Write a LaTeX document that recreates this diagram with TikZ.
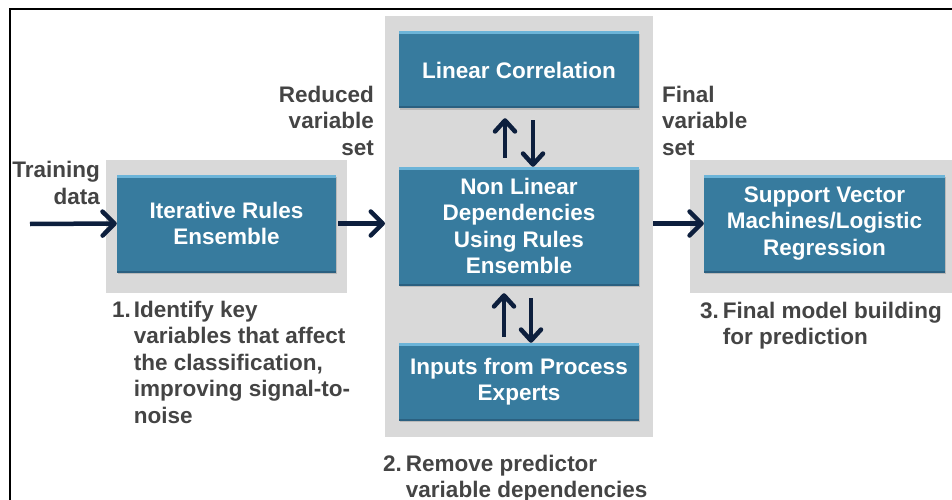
\documentclass[tikz,border=0pt]{standalone}
\usepackage{fontspec}
\setmainfont{Liberation Sans}
\usetikzlibrary{arrows.meta,shadows}
\definecolor{boxblue}{HTML}{377B9E}
\definecolor{boxtop}{HTML}{6CB4D8}
\definecolor{boxbot}{HTML}{2B6080}
\definecolor{panelgray}{HTML}{D9D9D9}
\definecolor{navy}{HTML}{0D1F3D}
\definecolor{txtgray}{HTML}{444444}
\begin{document}
\begin{tikzpicture}[x=1pt,y=-1pt,
  panel/.style={fill=panelgray,draw=none,inner sep=0pt,anchor=north west},
  box/.style={fill=boxblue,text=white,align=center,inner sep=0pt,
    font=\bfseries\fontsize{22.5}{26.5}\selectfont,
    drop shadow={shadow xshift=1pt,shadow yshift=-2pt,opacity=0.35},
    path picture={
      \draw[boxtop,line width=5pt] (path picture bounding box.north west) -- (path picture bounding box.north east);
      \draw[boxbot,line width=3pt] (path picture bounding box.south west) -- (path picture bounding box.south east);}},
  lbl/.style={text=txtgray,font=\bfseries\fontsize{22.5}{26.5}\selectfont,inner sep=0pt},
  flow/.style={draw=navy,line width=4.5pt,-{Straight Barb[length=12pt,width=24pt,round]}},
  vflow/.style={draw=navy,line width=4.5pt,-{Straight Barb[length=11pt,width=20pt,round]}},
]
\useasboundingbox (0,0) rectangle (952,500);
\draw[line width=1.6pt] (10,9) rectangle (975,525);

% panels
\node[panel,minimum width=241pt,minimum height=133pt] (p1) at (106,160) {};
\node[panel,minimum width=268pt,minimum height=421pt] (p2) at (385,16) {};
\node[panel,minimum width=270pt,minimum height=133pt] (p3) at (690,160) {};

% boxes
\node[box,minimum width=219pt,minimum height=97pt] (ire) at (226.5,223.5) {Iterative Rules\\Ensemble};
\node[box,minimum width=240pt,minimum height=76pt] (lc) at (519,70) {Linear Correlation};
\node[box,minimum width=240pt,minimum height=118pt] (nl) at (519,226) {Non Linear\\Dependencies\\Using Rules\\Ensemble};
\node[box,minimum width=240pt,minimum height=77pt] (inp) at (519,381.5) {Inputs from Process\\Experts};
\node[box,minimum width=241pt,minimum height=97pt] (svm) at (824.5,223.5) {Support Vector\\Machines/Logistic\\Regression};

% labels
\node[lbl,anchor=base east,align=right] (train) at (100,204) {Training\\data};
\node[lbl,anchor=base east,align=right] (red) at (374,155) {Reduced\\variable\\set};
\node[lbl,anchor=base west,align=left] (fin) at (662,155) {Final\\variable\\set};
\node[lbl,anchor=base west] (s1) at (112,317) {\begin{tabular}[t]{@{}l@{\hspace{3pt}}l@{}}1.&Identify key\\&variables that affect\\&the classification,\\&improving signal-to-\\&noise\end{tabular}};
\node[lbl,anchor=base west] (s2) at (383,471) {\begin{tabular}[t]{@{}l@{\hspace{4pt}}l@{}}2.&Remove predictor\\&variable dependencies\end{tabular}};
\node[lbl,anchor=base west] (s3) at (700,318) {\begin{tabular}[t]{@{}l@{\hspace{4pt}}l@{}}3.&Final model building\\&for prediction\end{tabular}};

% connectors
\coordinate (tstart) at (30,224);
\draw[flow] (tstart) -- (ire.west);
\draw[flow] ([xshift=2pt]ire.east) -- (p2.west |- ire.east);
\draw[flow] (p2.east |- svm.west) -- (svm.west);

\draw[vflow] ([xshift=-14pt,yshift=9pt]nl.north) -- ([xshift=-14pt,yshift=-10pt]lc.south);
\draw[vflow] ([xshift=14pt,yshift=-12pt]lc.south) -- ([xshift=14pt]nl.north);
\draw[vflow] ([xshift=-15pt,yshift=6pt]inp.north) -- ([xshift=-15pt,yshift=-8pt]nl.south);
\draw[vflow] ([xshift=12pt,yshift=-13pt]nl.south) -- ([xshift=12pt]inp.north);
\end{tikzpicture}
\end{document}
